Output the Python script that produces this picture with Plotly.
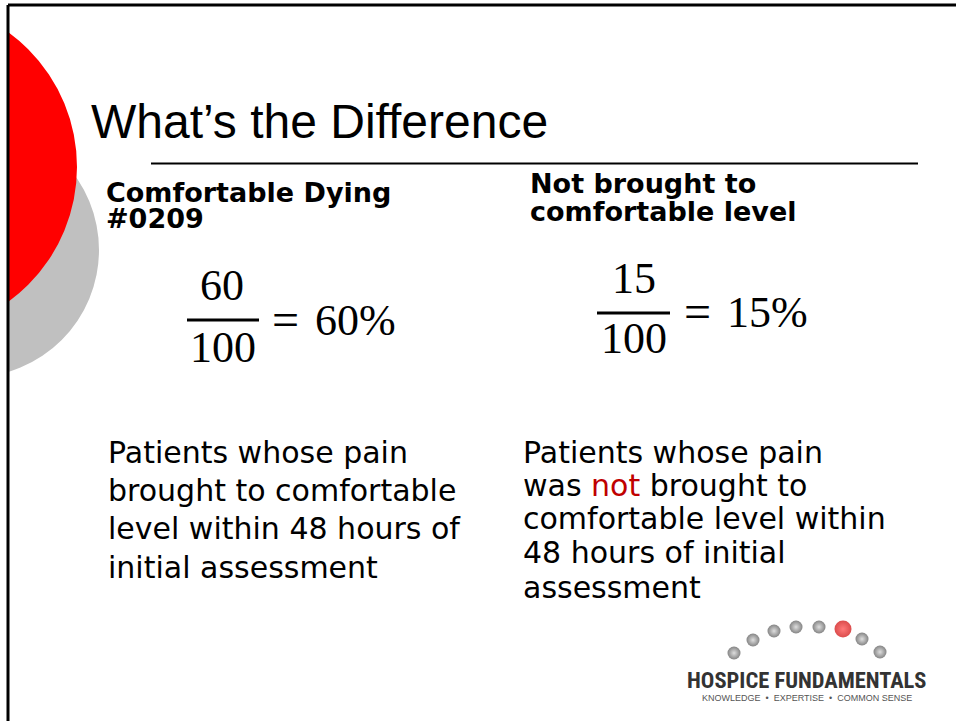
import plotly.graph_objects as go

# ---- content ----
title_text = "What’s the Difference"
left_header = ["Comfortable Dying", "#0209"]
right_header = ["Not brought to", "comfortable level"]
left_num, left_den, left_pct = "60", "100", "60%"
right_num, right_den, right_pct = "15", "100", "15%"
left_body = ["Patients whose pain", "brought to comfortable",
             "level within 48 hours of", "initial assessment"]
right_body = ["Patients whose pain",
              "was <span style='color:#c00000'>not</span> brought to",
              "comfortable level within", "48 hours of initial", "assessment"]
logo_name = "HOSPICE FUNDAMENTALS"
logo_tag = "KNOWLEDGE  •  EXPERTISE  •  COMMON SENSE"
# logo dots (decorative arc)
dot_x = [734, 753, 774, 796, 819, 843, 862, 880]
dot_y = [653, 640, 631, 627, 627, 629, 639, 652]
dot_size = [13, 13, 13, 13, 13, 17, 13, 13]
dot_edge = ["#505050"] * 5 + ["#cc0000"] + ["#505050"] * 2
dot_center = ["#d0d0d0"] * 5 + ["#ff4040"] + ["#d0d0d0"] * 2

W, H = 956, 721
L = 9

fig = go.Figure()
fig.add_trace(go.Scatter(
    x=dot_x, y=dot_y, mode="markers", hoverinfo="skip",
    marker=dict(size=dot_size, color=dot_edge,
                gradient=dict(type="radial", color=dot_center),
                line=dict(width=0)),
    showlegend=False))

shapes = []
# decorative circles (clipped by plot area at left border)
shapes.append(dict(type="circle", xref="x", yref="y", x0=-155.6, x1=99, y0=122.7, y1=377.3,
                   fillcolor="#c0c0c0", line=dict(width=0), layer="below"))
shapes.append(dict(type="circle", xref="x", yref="y", x0=-256.2, x1=77, y0=0.4, y1=333.6,
                   fillcolor="#ff0000", line=dict(width=0), layer="below"))
# slide border (top + left)
px = (8 - L) / (W - L)
py = 1 - 5 / H
shapes.append(dict(type="line", xref="paper", yref="paper", x0=px, x1=px, y0=0, y1=py,
                   line=dict(color="black", width=3)))
shapes.append(dict(type="line", xref="paper", yref="paper", x0=px, x1=1.01, y0=py, y1=py,
                   line=dict(color="black", width=3)))
# title rule
shapes.append(dict(type="line", xref="x", yref="y", x0=151, x1=918, y0=163.5, y1=163.5,
                   line=dict(color="black", width=2)))
# fraction bars
shapes.append(dict(type="line", xref="x", yref="y", x0=187, x1=259, y0=320, y1=320,
                   line=dict(color="black", width=3)))
shapes.append(dict(type="line", xref="x", yref="y", x0=597, x1=670, y0=313, y1=313,
                   line=dict(color="black", width=3)))

ann = []
def t(text, x, y, size, family, xanchor="left", bold=False, color="black"):
    ann.append(dict(text=text, x=x, y=y, xref="x", yref="y", showarrow=False,
                    xanchor=xanchor, yanchor="middle",
                    font=dict(size=size, family=family, color=color,
                              weight="bold" if bold else "normal")))

SANS = "Liberation Sans, Arial, sans-serif"
VERD = "DejaVu Sans, Verdana, sans-serif"
SERIF = "Liberation Serif, Times New Roman, serif"

t(title_text, 89, 121, 48, SANS)
t(left_header[0], 104, 192, 27, VERD, bold=True)
t(left_header[1], 104, 218, 27, VERD, bold=True)
t(right_header[0], 528, 183, 27, VERD, bold=True)
t(right_header[1], 528, 211, 27, VERD, bold=True)

t(left_num, 222, 285, 44, SERIF, xanchor="center")
t(left_den, 223, 347, 44, SERIF, xanchor="center")
t("=", 285.5, 319, 48, SERIF, xanchor="center")
t(left_pct, 313, 320, 44, SERIF)
t(right_num, 634, 278, 44, SERIF, xanchor="center")
t(right_den, 634, 338, 44, SERIF, xanchor="center")
t("=", 697, 311, 48, SERIF, xanchor="center")
t(right_pct, 725, 312, 44, SERIF)

for line, yy in zip(left_body, [452, 490, 528, 567]):
    t(line, 106, yy, 30, VERD)
for line, yy in zip(right_body, [452, 485, 518, 552, 587]):
    t(line, 521, yy, 30, VERD)

t(logo_name, 807, 680, 22.5, "Liberation Sans Narrow, Roboto Condensed, Roboto, sans-serif",
  xanchor="center", bold=True, color="#333333")
t(logo_tag, 806.5, 698, 9, SANS, xanchor="center", color="#555555")

fig.update_layout(
    width=W, height=H, autosize=False,
    margin=dict(l=L, r=0, t=0, b=0, pad=0),
    paper_bgcolor="white", plot_bgcolor="white",
    xaxis=dict(range=[L, W], visible=False, fixedrange=True),
    yaxis=dict(range=[H, 0], visible=False, fixedrange=True),
    shapes=shapes, annotations=ann, showlegend=False,
)
fig.write_html("out.html", config={"displayModeBar": False},
               post_script="document.body.style.margin='0px';document.body.style.overflow='hidden';")
